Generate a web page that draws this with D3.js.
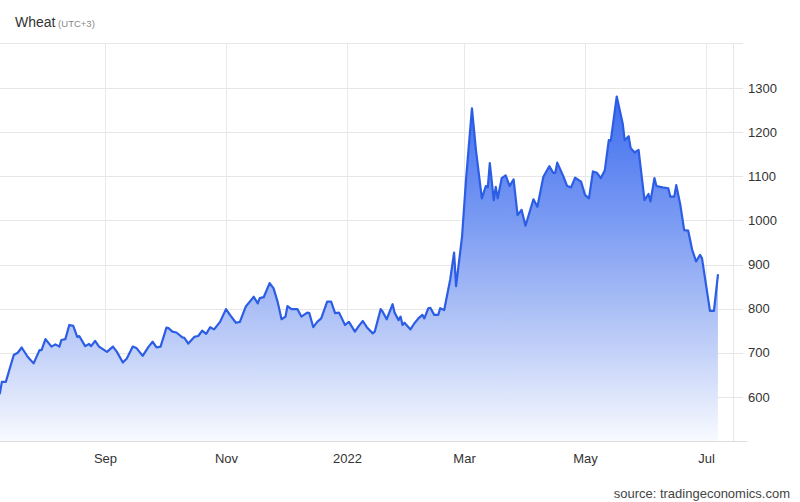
<!DOCTYPE html>
<html>
<head>
<meta charset="utf-8">
<script src="https://cdn.jsdelivr.net/npm/d3@7"></script>
<style>
  html, body { margin: 0; padding: 0; background: #fff; }
  svg { display: block; font-family: "Liberation Sans", Arial, sans-serif; }
</style>
</head>
<body>
<svg id="chart" width="800" height="502"></svg>
<script>
const title = "Wheat";
const subtitle = "(UTC+3)";
const source = "source: tradingeconomics.com";

const dates = [
"2021-07-10","2021-07-11","2021-07-13","2021-07-17","2021-07-19","2021-07-21","2021-07-24","2021-07-27","2021-07-30","2021-07-31",
"2021-08-02","2021-08-05","2021-08-07","2021-08-09","2021-08-10","2021-08-12","2021-08-14","2021-08-16","2021-08-18","2021-08-19",
"2021-08-22","2021-08-24","2021-08-25","2021-08-27","2021-08-29","2021-09-02","2021-09-05","2021-09-07","2021-09-10","2021-09-12",
"2021-09-15","2021-09-17","2021-09-20","2021-09-23","2021-09-25","2021-09-27","2021-09-29","2021-10-02","2021-10-03","2021-10-05",
"2021-10-07","2021-10-10","2021-10-11","2021-10-13","2021-10-16","2021-10-18","2021-10-20","2021-10-22","2021-10-24","2021-10-26",
"2021-10-29","2021-11-01","2021-11-03","2021-11-06","2021-11-08","2021-11-11","2021-11-13","2021-11-15","2021-11-17","2021-11-18",
"2021-11-20","2021-11-23","2021-11-25","2021-11-27","2021-11-29","2021-12-01","2021-12-02","2021-12-04","2021-12-07","2021-12-09",
"2021-12-12","2021-12-13","2021-12-15","2021-12-17","2021-12-19","2021-12-22","2021-12-24","2021-12-26","2021-12-28","2021-12-31",
"2022-01-02","2022-01-05","2022-01-07","2022-01-09","2022-01-11","2022-01-14","2022-01-15","2022-01-18","2022-01-19","2022-01-21",
"2022-01-24","2022-01-25","2022-01-27","2022-01-28","2022-01-29","2022-01-30","2022-02-02","2022-02-04","2022-02-06","2022-02-08",
"2022-02-09","2022-02-11","2022-02-12","2022-02-14","2022-02-16","2022-02-17","2022-02-19","2022-02-22","2022-02-24","2022-02-25",
"2022-02-28","2022-03-02","2022-03-05","2022-03-07","2022-03-10","2022-03-12","2022-03-13","2022-03-14","2022-03-16","2022-03-17",
"2022-03-18","2022-03-20","2022-03-22","2022-03-24","2022-03-26","2022-03-28","2022-03-30","2022-04-01","2022-04-05","2022-04-07",
"2022-04-10","2022-04-13","2022-04-15","2022-04-16","2022-04-17","2022-04-20","2022-04-22","2022-04-24","2022-04-26","2022-04-29",
"2022-05-01","2022-05-03","2022-05-05","2022-05-07","2022-05-09","2022-05-11","2022-05-13","2022-05-14","2022-05-17","2022-05-20",
"2022-05-21","2022-05-23","2022-05-24","2022-05-26","2022-05-28","2022-05-31","2022-06-02","2022-06-03","2022-06-05","2022-06-06",
"2022-06-09","2022-06-12","2022-06-13","2022-06-15","2022-06-16","2022-06-18","2022-06-20","2022-06-22","2022-06-24","2022-06-26",
"2022-06-28","2022-06-29","2022-07-03","2022-07-05","2022-07-07"
];

const prices = [
608,634,634,695,700,712,691,676,706,706,
731,714,719,714,729,731,763,761,736,738,
715,720,715,727,714,702,714,702,678,687,
714,710,693,714,725,712,714,757,756,748,
746,735,734,721,736,738,750,743,758,753,
770,799,786,768,770,805,816,827,812,824,
826,858,846,816,776,782,806,799,799,782,
791,790,758,770,778,816,816,790,791,763,
770,748,761,772,758,744,748,799,793,776,
810,791,774,782,763,768,753,767,778,786,
778,801,802,786,786,801,797,865,927,851,
963,1092,1254,1160,1050,1078,1075,1130,1046,1076,
1050,1096,1102,1078,1093,1012,1024,988,1048,1031,
1099,1123,1108,1108,1131,1101,1078,1075,1097,1088,
1058,1050,1111,1108,1096,1114,1182,1181,1281,1220,
1182,1191,1164,1154,1160,1046,1060,1043,1096,1078,
1075,1073,1054,1054,1080,1037,978,977,934,907,
922,914,795,795,876
];

const yTicks = [600, 700, 800, 900, 1000, 1100, 1200, 1300];
const xTickDates = ["2021-09-01", "2021-11-01", "2022-01-01", "2022-03-01", "2022-05-01", "2022-07-01"];
const xTickLabels = ["Sep", "Nov", "2022", "Mar", "May", "Jul"];

const parse = d3.timeParse("%Y-%m-%d");
const data = dates.map((d, i) => ({ date: parse(d), value: prices[i] }));

const svg = d3.select("#chart");
const plotLeft = 0, plotRight = 733, plotTop = 43, plotBottom = 441;

const x = d3.scaleTime()
  .domain([parse("2021-09-01"), parse("2022-07-01")])
  .range([105, 706]);
const y = d3.scaleLinear()
  .domain([500, 1400])
  .range([plotBottom, plotTop + 1]);

// gradient
const defs = svg.append("defs");
const grad = defs.append("linearGradient")
  .attr("id", "fillGrad")
  .attr("gradientUnits", "userSpaceOnUse")
  .attr("x1", 0).attr("x2", 0)
  .attr("y1", y(1300)).attr("y2", plotBottom);
grad.append("stop").attr("offset", "0%").attr("stop-color", "#3a6bef");
grad.append("stop").attr("offset", "40%").attr("stop-color", "#7f9ef3");
grad.append("stop").attr("offset", "75%").attr("stop-color", "#c4d2f8");
grad.append("stop").attr("offset", "100%").attr("stop-color", "#f8faff");

defs.append("clipPath").attr("id", "plotClip")
  .append("rect").attr("x", plotLeft).attr("y", plotTop)
  .attr("width", plotRight - plotLeft).attr("height", plotBottom - plotTop);

// gridlines
const grid = svg.append("g");
grid.selectAll("line.h").data(yTicks).join("line")
  .attr("x1", plotLeft).attr("x2", 743)
  .attr("y1", d => Math.round(y(d)) + 0.5).attr("y2", d => Math.round(y(d)) + 0.5)
  .attr("stroke", "#e6e6e6").attr("stroke-width", 1);
grid.selectAll("line.v").data(xTickDates).join("line")
  .attr("x1", d => Math.round(x(parse(d))) + 0.5).attr("x2", d => Math.round(x(parse(d))) + 0.5)
  .attr("y1", plotTop).attr("y2", plotBottom)
  .attr("stroke", "#e9e9e9").attr("stroke-width", 1);
// frame
grid.append("line").attr("x1", 0).attr("x2", 743).attr("y1", plotTop + 0.5).attr("y2", plotTop + 0.5)
  .attr("stroke", "#e6e6e6");
grid.append("line").attr("x1", plotRight + 0.5).attr("x2", plotRight + 0.5).attr("y1", plotTop).attr("y2", plotBottom)
  .attr("stroke", "#e6e6e6");

// area + line
const g = svg.append("g").attr("clip-path", "url(#plotClip)");
const area = d3.area()
  .x(d => x(d.date))
  .y0(plotBottom)
  .y1(d => y(d.value));
const line = d3.line()
  .x(d => x(d.date))
  .y(d => y(d.value));

g.append("path").datum(data).attr("d", area).attr("fill", "url(#fillGrad)");
g.append("path").datum(data).attr("d", line)
  .attr("fill", "none").attr("stroke", "#2c5de5").attr("stroke-width", 2.2)
  .attr("stroke-linejoin", "round").attr("stroke-linecap", "round");

// bottom axis line
svg.append("line").attr("x1", 0).attr("x2", 747)
  .attr("y1", plotBottom + 0.5).attr("y2", plotBottom + 0.5)
  .attr("stroke", "#dcdcdc");

// y axis labels
const yAxis = d3.axisRight(y).tickValues(yTicks).tickFormat(d3.format("d")).tickSize(0).tickPadding(0);
const yg = svg.append("g").attr("transform", "translate(748,0)").call(yAxis);
yg.select(".domain").remove();
yg.selectAll("text").attr("fill", "#333").attr("font-size", 13)
  .attr("font-family", "Liberation Sans, Arial, sans-serif");

// x axis labels
const xAxis = d3.axisBottom(x)
  .tickValues(xTickDates.map(parse))
  .tickFormat((d, i) => xTickLabels[i])
  .tickSize(0).tickPadding(0);
const xg = svg.append("g").attr("transform", "translate(0,454)").call(xAxis);
xg.select(".domain").remove();
xg.selectAll("text").attr("fill", "#333").attr("font-size", 13)
  .attr("font-family", "Liberation Sans, Arial, sans-serif");

// title
const t = svg.append("text").attr("x", 15).attr("y", 27);
t.append("tspan").text(title).attr("font-size", 14).attr("fill", "#333");
t.append("tspan").text(" " + subtitle).attr("font-size", 9.5).attr("fill", "#888");

// source
svg.append("text").attr("x", 790).attr("y", 498)
  .attr("text-anchor", "end").attr("font-size", 13).attr("fill", "#444")
  .text(source);
</script>
</body>
</html>
